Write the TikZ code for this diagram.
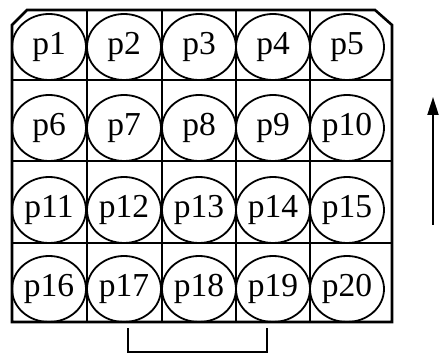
\documentclass[tikz,border=0pt]{standalone}
\usepackage{fontspec}
\setmainfont{Liberation Serif}
\usetikzlibrary{shapes.geometric,arrows.meta}
\tikzset{
  cell/.style={ellipse,draw,line width=1.8pt,minimum width=74pt,minimum height=66pt,inner sep=0pt,font=\fontsize{33.5}{33.5}\selectfont},
  grid/.style={line width=1.8pt},
  frame/.style={line width=2.6pt,line join=miter},
}
\begin{document}
\begin{tikzpicture}[x=1pt,y=-1pt]
\useasboundingbox (0,0) rectangle (439,355);
% cells
\foreach \r/\cy in {0/47,1/128,2/210,3/289}{
  \foreach \c/\cx in {1/49,2/124,3/199,4/273,5/347}{
    \pgfmathtruncatemacro{\n}{\r*5+\c}
    \node[cell] (p\n) at (\cx,\cy) {p\n};
  }
}
% grid
\foreach \x in {87,162,236,310} \draw[grid] (\x,10) -- (\x,322);
\foreach \y in {80,161,243} \draw[grid] (12,\y) -- (392,\y);
\draw[frame] (12,25) -- (27,10) -- (375,10) -- (392,25) -- (392,322) -- (12,322) -- cycle;
% bracket
\coordinate (b1) at (128,328);
\coordinate (b2) at (128,352);
\coordinate (b3) at (267,352);
\coordinate (b4) at (267,328);
\draw[line width=2.4pt] (b1) -- (b2) -- (b3) -- (b4);
% arrow
\coordinate (a1) at (433,225);
\coordinate (a2) at (433,97);
\draw[line width=2pt,-{Triangle[length=18pt,width=11pt]}] (a1) -- (a2);
\end{tikzpicture}
\end{document}
